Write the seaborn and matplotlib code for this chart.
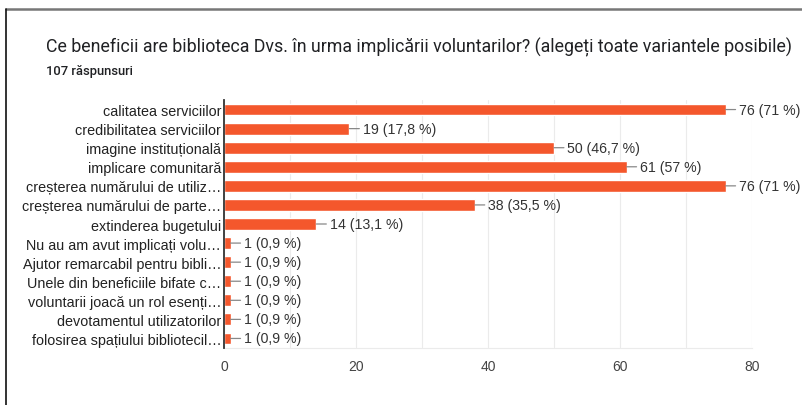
import matplotlib
matplotlib.use("Agg")
import matplotlib.pyplot as plt
from matplotlib.lines import Line2D
import pandas as pd
import seaborn as sns

# survey answers, counts and percentages as shown on the chart
answers = [
    "calitatea serviciilor",
    "credibilitatea serviciilor",
    "imagine instituțională",
    "implicare comunitară",
    "creșterea numărului de utiliz…",
    "creșterea numărului de parte…",
    "extinderea bugetului",
    "Nu au am avut implicați volu…",
    "Ajutor remarcabil pentru bibli…",
    "Unele din beneficiile bifate c…",
    "voluntarii joacă un rol esenți…",
    "devotamentul utilizatorilor",
    "folosirea spațiului bibliotecil…",
]
counts = [76, 19, 50, 61, 76, 38, 14, 1, 1, 1, 1, 1, 1]
percents = ["71", "17,8", "46,7", "57", "71", "35,5", "13,1",
            "0,9", "0,9", "0,9", "0,9", "0,9", "0,9"]
x_ticks = [0, 20, 40, 60, 80]

df = pd.DataFrame({"answer": answers, "count": counts, "pct": percents})

sns.set_style("white")
plt.rcParams['font.family'] = ['Liberation Sans', 'DejaVu Sans']

fig = plt.figure(figsize=(8.02, 4.06), dpi=100)
ax = fig.add_axes([0.2793, 0.1404, 0.6584, 0.6108])

sns.barplot(data=df, x="count", y="answer", color="#f4572c", saturation=1,
            width=0.62, ax=ax, zorder=3)

# value labels with the little connector line
for i, row in df.iterrows():
    ax.annotate(f"{row['count']} ({row['pct']} %)", xy=(row["count"], i),
                xytext=(9.5, 0), textcoords="offset points",
                va="center", ha="left", fontsize=10.2, color="#333333",
                arrowprops=dict(arrowstyle="-", color="#888888", lw=0.9,
                                shrinkA=0, shrinkB=0))

ax.set_xlim(0, 80)
ax.set_xticks(x_ticks)
ax.set_xticks(range(10, 80, 20), minor=True)
ax.grid(axis="x", which="both", color="#ebebeb", lw=0.8, zorder=0)
ax.set_xlabel("")
ax.set_ylabel("")
ax.tick_params(axis="x", length=0, labelsize=10, labelcolor="#444444", pad=8)
ax.tick_params(axis="x", which="minor", length=0)
ax.tick_params(axis="y", length=0, labelsize=10.4, labelcolor="#222222", pad=2)

for side in ["top", "right"]:
    ax.spines[side].set_visible(False)
ax.spines["bottom"].set_color("#ebebeb")
ax.spines["left"].set_color("#333333")
ax.spines["left"].set_linewidth(1.3)
ax.spines["left"].set_zorder(4)

fig.text(46 / 802, 1 - 47 / 406,
         "Ce beneficii are biblioteca Dvs. în urma implicării voluntarilor? (alegeți toate variantele posibile)",
         family=["Roboto", "DejaVu Sans"], fontsize=12.8, color="#202124",
         va="center", ha="left")
fig.text(46 / 802, 1 - 72 / 406, "107 răspunsuri",
         family=["Roboto", "DejaVu Sans"], fontsize=9.4, fontweight="medium",
         color="#202124", va="center", ha="left")

# frame around the screenshot
fig.add_artist(Line2D([6 / 802, 1], [1 - 10 / 406] * 2, color="#777777", lw=1.8))
fig.add_artist(Line2D([6 / 802] * 2, [0, 1 - 10 / 406], color="#111111", lw=1.2))

fig.savefig("out.png", dpi=100)
